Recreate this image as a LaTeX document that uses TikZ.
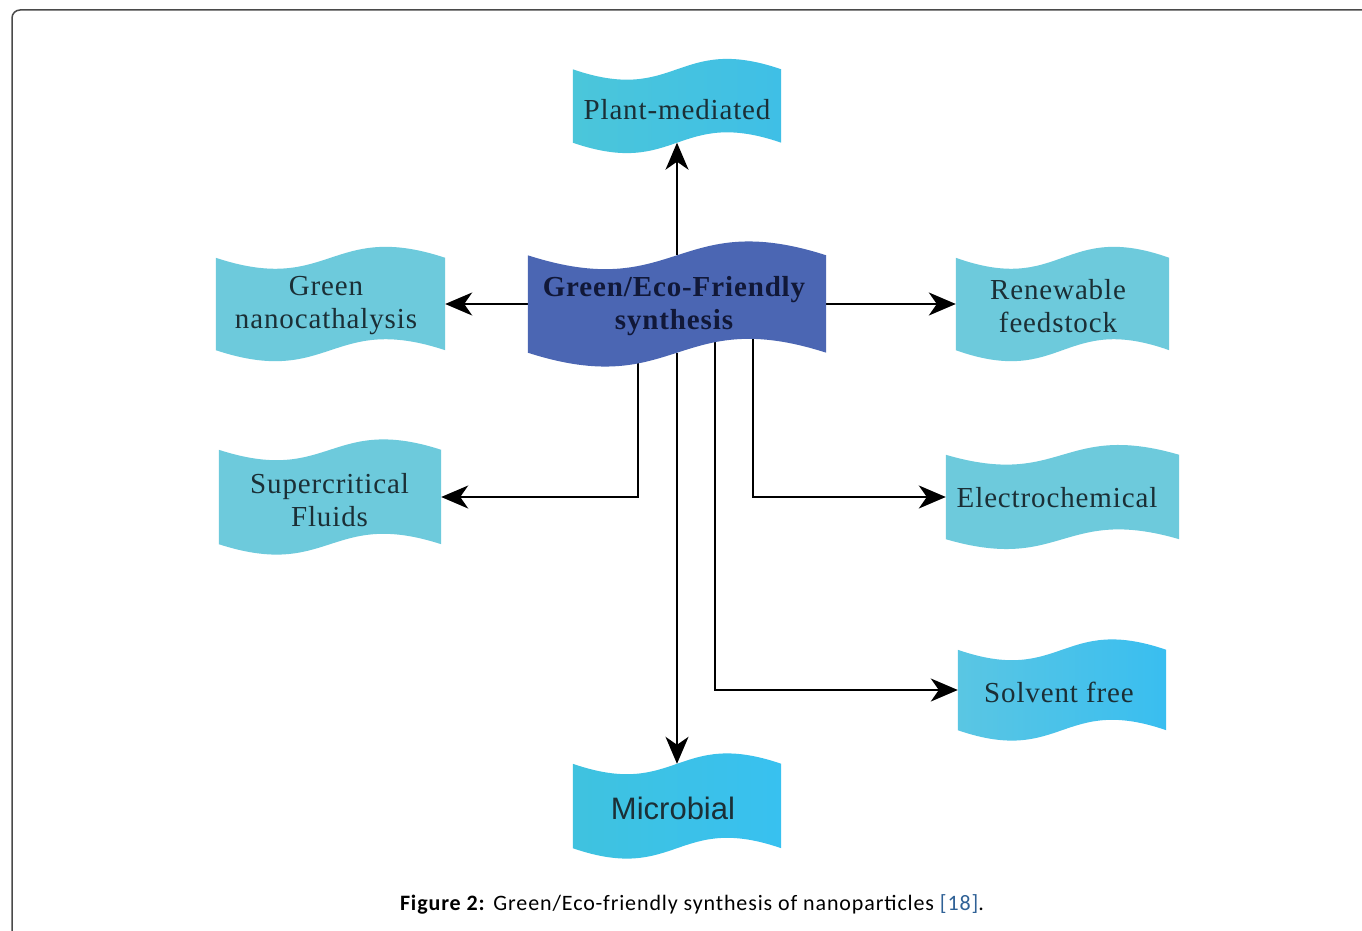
\documentclass[tikz,border=0pt]{standalone}
\usepackage{fontspec}
\setmainfont{Liberation Serif}[LetterSpace=3]
\newfontfamily\capfont{Carlito}[LetterSpace=4]
\newfontfamily\arialfont{Liberation Sans}
\usetikzlibrary{arrows.meta,calc}
\pgfdeclarelayer{lines}
\pgfdeclarelayer{shapes}
\pgfsetlayers{lines,shapes,main}
\definecolor{cyanA}{HTML}{6DCADC}
\definecolor{pmL}{HTML}{4BC6DA}
\definecolor{pmR}{HTML}{3FBFE6}
\definecolor{mbL}{HTML}{3FC2DF}
\definecolor{mbR}{HTML}{38C1F0}
\definecolor{sfL}{HTML}{5AC6E3}
\definecolor{sfR}{HTML}{39BEF0}
\definecolor{cfill}{HTML}{4B66B3}
\definecolor{txtc}{HTML}{1B2F36}
\definecolor{ctxt}{HTML}{111838}
\definecolor{refc}{HTML}{2F6196}
\definecolor{framec}{HTML}{4A4A4A}
\tikzset{
  box/.style={inner sep=0pt},
  lbl/.style={inner sep=0pt, align=center, font=\fontsize{29}{33}\selectfont, text=txtc},
  arr/.style={line width=2pt, -{Stealth[length=27pt,width=23pt,inset=8pt]}},
}
\newcommand\wavefill[3]{%
  \begin{pgfonlayer}{shapes}
  \path[#3] let \p1=(#1.north west), \p2=(#1.south east), \n1={(\x1+\x2)/2}, \n2={#2pt} in
   (\x1,\y1) .. controls (\n1,\y1-\n2) and (\n1,\y1+\n2) .. (\x2,\y1) -- (\x2,\y2)
   .. controls (\n1,\y2+\n2) and (\n1,\y2-\n2) .. (\x1,\y2) -- cycle;
  \end{pgfonlayer}}
\begin{document}
\begin{tikzpicture}[x=1pt,y=-1pt]
\useasboundingbox (0,0) rectangle (1362,931);
\begin{pgfonlayer}{lines}
\fill[white] (0,0) rectangle (1362,931);
\end{pgfonlayer}
\draw[framec, line width=1.5pt, rounded corners=8pt] (12,10) rectangle (1420,1000);

% shape nodes
\node[box, minimum width=298pt, minimum height=97pt] (c) at (677,304) {};
\node[box, minimum width=208pt, minimum height=73pt] (pm) at (677,106) {};
\node[box, minimum width=229pt, minimum height=92pt] (gn) at (330.5,304) {};
\node[box, minimum width=213pt, minimum height=92pt] (rf) at (1062.5,304) {};
\node[box, minimum width=222pt, minimum height=94pt] (sc) at (330,497) {};
\node[box, minimum width=233pt, minimum height=84pt] (ec) at (1062.5,497) {};
\node[box, minimum width=208pt, minimum height=80pt] (sf) at (1062,690) {};
\node[box, minimum width=208pt, minimum height=84pt] (mb) at (677,806) {};

\wavefill{c}{48}{fill=cfill}
\wavefill{pm}{36}{left color=pmL, right color=pmR}
\wavefill{gn}{38}{fill=cyanA}
\wavefill{rf}{38}{fill=cyanA}
\wavefill{sc}{36}{fill=cyanA}
\wavefill{ec}{34}{fill=cyanA}
\wavefill{sf}{36}{left color=sfL, right color=sfR}
\wavefill{mb}{36}{left color=mbL, right color=mbR}

% texts
\node[lbl, text=ctxt, font=\bfseries\fontsize{29}{33}\selectfont] (ct) at (674,306) {Green/Eco-Friendly\\synthesis};
\node[lbl] (pmt) at (677,110) {Plant-mediated};
\node[lbl] (gnt) at (326,306) {Green\\nanocathalysis};
\node[lbl] (rft) at (1058,306) {Renewable\\feedstock};
\node[lbl] (sct) at (329.5,500) {Supercritical\\Fluids};
\node[lbl] (ect) at (1057,498) {Electrochemical};
\node[lbl] (sft) at (1059,692) {Solvent free};
\node[lbl, font=\arialfont\fontsize{31}{35}\selectfont] (mbt) at (673,808) {Microbial};

\begin{pgfonlayer}{lines}
\draw[arr] (c) -- (pm);
\draw[arr] (c) -- (gn);
\draw[arr] (c) -- (rf);
\draw[arr] (c) -- (mb);
\draw[arr] ([xshift=-39pt]c.center) |- (sc);
\draw[arr] ([xshift=76pt]c.center) |- (ec);
\draw[arr] ([xshift=38pt]c.center) |- (sf);
\end{pgfonlayer}

\node[font=\capfont\fontsize{22}{26}\selectfont, text=black] (cap) at (692,904)
  {\textbf{Figure 2:} Green/Eco-friendly synthesis of nanoparticles {\color{refc}[18]}.};
\end{tikzpicture}
\end{document}
